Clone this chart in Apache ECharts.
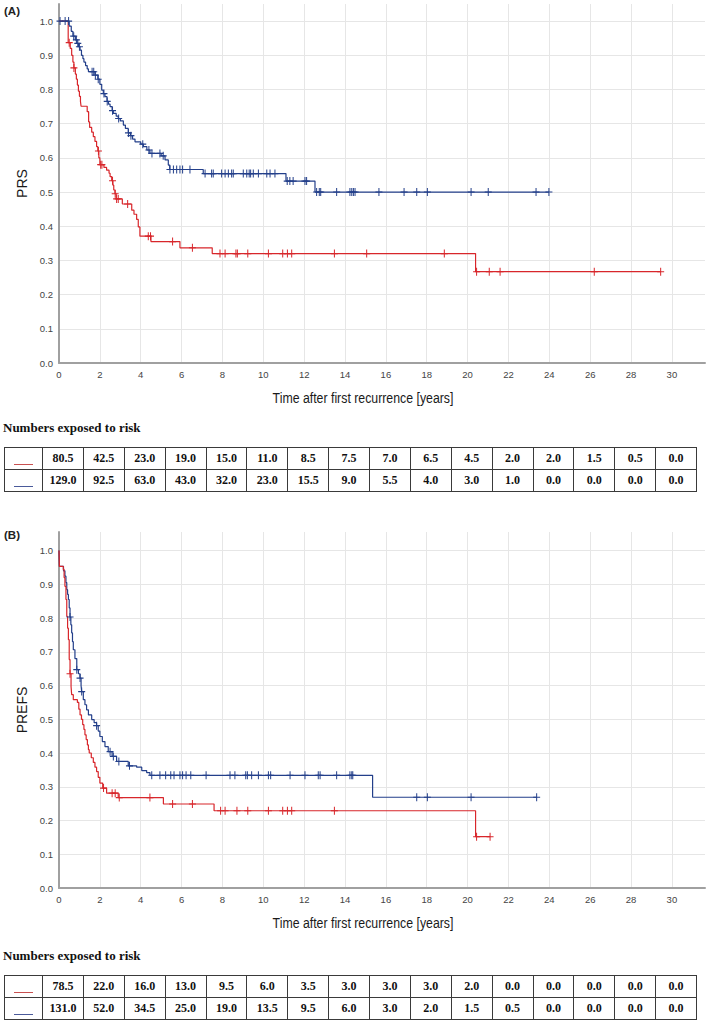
<!DOCTYPE html>
<html><head><meta charset="utf-8">
<script src="https://cdn.jsdelivr.net/npm/echarts@6/dist/echarts.min.js"></script>
<style>
html,body{margin:0;padding:0;background:#fff;}
#wrap{position:relative;width:709px;height:1022px;overflow:hidden;background:#fff;}
#chart{position:absolute;left:0;top:0;width:709px;height:1022px;}
.cap{position:absolute;left:3px;font:bold 13px "Liberation Serif",serif;color:#111;white-space:nowrap;}
table.risk{position:absolute;left:4px;width:693px;border-collapse:collapse;table-layout:fixed;font:bold 12px "Liberation Serif",serif;color:#111;}
table.risk td{border:1px solid #3a3a3a;height:21px;padding:0;text-align:center;vertical-align:middle;}
table.risk td .ln{display:inline-block;width:19px;height:0;border-top:1px solid;position:relative;top:3px;}
</style></head><body>
<div id="wrap">
<div id="chart"></div>
<div class="cap" style="top:420px">Numbers exposed to risk</div>
<table class="risk" id="tabA" style="top:447px"></table>
<div class="cap" style="top:948px">Numbers exposed to risk</div>
<table class="risk" id="tabB" style="top:975px"></table>
</div>
<script>
// ---------- data ----------
const xTickLabels = [0,2,4,6,8,10,12,14,16,18,20,22,24,26,28,30];
const yTickLabels = ['0.0','0.1','0.2','0.3','0.4','0.5','0.6','0.7','0.8','0.9','1.0'];
const xTitle = 'Time after first recurrence [years]';
const panelLabels = ['(A)','(B)'];
const yNames = ['PRS','PREFS'];
const groupNames = ['red group','blue group'];

// Panel A: Kaplan–Meier steps [time, survival after the step]
const prsRed = [[0,1.0],[0.45,0.937],[0.55,0.92],[0.62,0.9],[0.68,0.88],[0.73,0.863],[0.8,0.845],[0.85,0.83],[0.9,0.813],[0.95,0.795],[1.0,0.78],[1.05,0.765],[1.08,0.751],[1.38,0.735],[1.45,0.705],[1.5,0.689],[1.6,0.675],[1.68,0.662],[1.76,0.648],[1.84,0.633],[1.9,0.62],[1.95,0.6],[2.0,0.58],[2.2,0.572],[2.33,0.564],[2.45,0.555],[2.5,0.545],[2.58,0.533],[2.64,0.52],[2.68,0.506],[2.74,0.495],[2.8,0.48],[3.1,0.465],[3.56,0.447],[3.67,0.435],[3.8,0.42],[3.88,0.398],[3.96,0.371],[4.5,0.355],[5.92,0.337],[7.5,0.32],[20.39,0.267],[29.45,0.267]];
const prsRedCens = [0.5,0.73,1.93,2.04,2.1,2.62,2.75,2.82,2.9,3.36,4.37,4.48,5.56,6.53,7.88,8.13,8.66,8.73,9.24,10.25,10.95,11.18,11.39,13.48,15.06,18.86,20.44,21.06,21.59,26.2,29.45];
const prsBlue = [[0,1.0],[0.5,0.985],[0.6,0.97],[0.68,0.956],[0.8,0.945],[0.88,0.935],[0.95,0.925],[1.03,0.915],[1.1,0.9],[1.17,0.89],[1.22,0.88],[1.3,0.87],[1.38,0.86],[1.44,0.852],[1.76,0.842],[1.9,0.83],[2.0,0.815],[2.09,0.798],[2.17,0.788],[2.25,0.779],[2.35,0.765],[2.42,0.757],[2.5,0.75],[2.6,0.738],[2.66,0.73],[2.8,0.722],[2.9,0.715],[3.0,0.708],[3.15,0.696],[3.25,0.686],[3.39,0.673],[3.5,0.665],[3.6,0.655],[3.72,0.647],[4.0,0.64],[4.13,0.633],[4.3,0.623],[4.45,0.613],[5.0,0.606],[5.19,0.594],[5.35,0.579],[5.42,0.566],[7.06,0.554],[11.11,0.532],[12.53,0.5],[23.98,0.5]];
const prsBlueCens = [0.05,0.3,0.47,0.72,0.85,0.92,1.0,1.62,1.7,1.78,1.92,2.2,2.36,2.62,2.92,3.4,3.52,4.1,4.4,4.55,4.94,5.1,5.43,5.6,5.76,5.92,6.05,6.41,7.15,7.47,7.55,7.96,8.13,8.29,8.45,8.53,9.02,9.19,9.31,9.38,9.51,9.76,10.17,10.33,10.57,11.17,11.3,11.46,12.04,12.12,12.61,12.74,12.81,13.59,14.24,14.33,14.41,14.49,15.66,16.89,17.51,18.03,20.17,21.01,23.35,23.98];

// Panel B
const prefsRed = [[0,1.0],[0.02,0.953],[0.21,0.944],[0.25,0.92],[0.29,0.894],[0.34,0.855],[0.38,0.805],[0.42,0.77],[0.46,0.736],[0.5,0.677],[0.54,0.635],[0.59,0.597],[0.62,0.573],[0.7,0.558],[0.9,0.55],[0.97,0.53],[1.03,0.513],[1.1,0.5],[1.16,0.484],[1.22,0.47],[1.27,0.454],[1.33,0.44],[1.39,0.424],[1.44,0.41],[1.48,0.4],[1.58,0.386],[1.68,0.372],[1.76,0.358],[1.84,0.345],[1.92,0.328],[2.0,0.311],[2.14,0.296],[2.33,0.281],[2.9,0.268],[5.11,0.249],[7.59,0.229],[20.39,0.152],[21.1,0.152]];
const prefsRedCens = [0.54,2.18,2.6,2.75,2.95,4.45,5.56,6.53,7.91,8.13,8.71,9.24,10.25,10.95,11.18,11.39,13.48,20.44,21.1];
const prefsBlue = [[0,1.0],[0.02,0.953],[0.22,0.94],[0.29,0.924],[0.34,0.905],[0.38,0.884],[0.42,0.87],[0.46,0.855],[0.5,0.83],[0.54,0.803],[0.58,0.78],[0.62,0.756],[0.66,0.73],[0.7,0.706],[0.78,0.68],[0.87,0.647],[0.95,0.635],[1.03,0.622],[1.08,0.6],[1.11,0.582],[1.19,0.558],[1.27,0.543],[1.35,0.528],[1.44,0.513],[1.6,0.499],[1.72,0.49],[1.84,0.481],[1.92,0.465],[2.0,0.449],[2.12,0.434],[2.25,0.419],[2.41,0.404],[2.6,0.39],[2.82,0.375],[3.39,0.362],[3.8,0.358],[4.05,0.348],[4.29,0.342],[4.45,0.334],[15.35,0.269],[23.38,0.269]];
const prefsBlueCens = [0.54,0.87,1.03,1.11,1.84,2.5,2.66,2.93,3.45,4.54,4.94,5.22,5.47,5.63,5.92,6.05,6.22,6.45,7.2,8.37,8.61,9.14,9.22,9.43,9.76,10.25,10.36,11.31,12.04,12.69,12.78,13.59,14.24,14.33,14.38,17.51,18.03,20.17,23.38];

// Numbers exposed to risk
const riskARed  = ['80.5','42.5','23.0','19.0','15.0','11.0','8.5','7.5','7.0','6.5','4.5','2.0','2.0','1.5','0.5','0.0'];
const riskABlue = ['129.0','92.5','63.0','43.0','32.0','23.0','15.5','9.0','5.5','4.0','3.0','1.0','0.0','0.0','0.0','0.0'];
const riskBRed  = ['78.5','22.0','16.0','13.0','9.5','6.0','3.5','3.0','3.0','3.0','2.0','0.0','0.0','0.0','0.0','0.0'];
const riskBBlue = ['131.0','52.0','34.5','25.0','19.0','13.5','9.5','6.0','3.0','2.0','1.5','0.5','0.0','0.0','0.0','0.0'];

// ---------- styling ----------
const RED = '#d8262b';
const BLUE = '#233f8a';
const FONT = '"Liberation Sans", Arial, sans-serif';

function buildTable(id, red, blue){
  const t = document.getElementById(id);
  let h = '<colgroup><col style="width:38px">' + red.map(()=>'<col>').join('') + '</colgroup>';
  h += '<tr><td><span class="ln" style="border-color:#c85050"></span></td>' + red.map(v=>'<td>'+v+'</td>').join('') + '</tr>';
  h += '<tr><td><span class="ln" style="border-color:#4a5a9a"></span></td>' + blue.map(v=>'<td>'+v+'</td>').join('') + '</tr>';
  t.innerHTML = h;
}
buildTable('tabA', riskARed, riskABlue);
buildTable('tabB', riskBRed, riskBBlue);

function stepAt(curve, t){
  let s = curve[0][1];
  for (const p of curve){ if (p[0] <= t + 1e-9) s = p[1]; else break; }
  return s;
}
const plus = 'path://M3,0h1v7h-1zM0,3h7v1h-7z';

function mkX(i){
  return {
    type:'value', gridIndex:i, min:0, max:31.62, interval:2,
    axisLine:{show:true, onZero:false, lineStyle:{color:'#a0a0a0', width:2}},
    axisTick:{show:false},
    axisLabel:{show:true, margin:6, color:'#444', fontSize:9.5, fontFamily:FONT, showMaxLabel:false,
      formatter:(v)=> xTickLabels.indexOf(v) >= 0 ? String(v) : ''},
    splitLine:{show:true, showMaxLine:false, lineStyle:{color:'#e6e6e6', width:1}}
  };
}
function mkY(i, name, max){
  return {
    type:'value', gridIndex:i, min:0, max:max, interval:0.1,
    name:name, nameLocation:'middle', nameGap:27,
    nameTextStyle:{fontSize:14, color:'#1a1a1a', fontFamily:FONT},
    axisLine:{show:true, onZero:false, lineStyle:{color:'#a0a0a0', width:2}},
    axisTick:{show:false},
    axisLabel:{show:true, margin:6, color:'#444', fontSize:9.5, fontFamily:FONT, showMaxLabel:false,
      formatter:(v)=>{ const k = Math.round(v*10); return (Math.abs(v*10-k)<1e-6 && k<=10) ? yTickLabels[k] : ''; }},
    splitLine:{show:true, showMaxLine:false, lineStyle:{color:'#e6e6e6', width:1}}
  };
}
function kmSeries(curve, cens, color, gi, nm){
  return [
    {type:'line', name:nm, xAxisIndex:gi, yAxisIndex:gi, step:'end', data:curve, showSymbol:false,
     lineStyle:{color:color, width:1.2}, itemStyle:{color:color}, silent:true, z:3},
    {type:'scatter', name:nm, xAxisIndex:gi, yAxisIndex:gi, symbol:plus, symbolSize:[7,8],
     data:cens.map(t=>[t, stepAt(curve,t)]), itemStyle:{color:color, opacity:1}, silent:true, z:4}
  ];
}

const chart = echarts.init(document.getElementById('chart'), null, {renderer:'svg', width:709, height:1022});
chart.setOption({
  animation:false,
  backgroundColor:'#fff',
  grid:[{left:59, top:4, width:646, height:359},{left:59, top:532, width:646, height:356}],
  xAxis:[mkX(0), mkX(1)],
  yAxis:[mkY(0, yNames[0], 1.05), mkY(1, yNames[1], 1.055)],
  graphic:[
    {type:'text', left:4, top:5, style:{text:panelLabels[0], font:'bold 11.5px '+FONT, fill:'#222'}},
    {type:'text', left:4, top:529, style:{text:panelLabels[1], font:'bold 11.5px '+FONT, fill:'#222'}},
    {type:'text', x:363, y:398, scaleX:0.85, style:{text:xTitle, font:'14.5px '+FONT, fill:'#1a1a1a', align:'center', verticalAlign:'middle'}},
    {type:'text', x:363, y:923, scaleX:0.85, style:{text:xTitle, font:'14.5px '+FONT, fill:'#1a1a1a', align:'center', verticalAlign:'middle'}}
  ],
  series:[
    ...kmSeries(prsBlue, prsBlueCens, BLUE, 0, groupNames[1]),
    ...kmSeries(prsRed, prsRedCens, RED, 0, groupNames[0]),
    ...kmSeries(prefsBlue, prefsBlueCens, BLUE, 1, groupNames[1]),
    ...kmSeries(prefsRed, prefsRedCens, RED, 1, groupNames[0])
  ]
});
</script>
</body></html>
